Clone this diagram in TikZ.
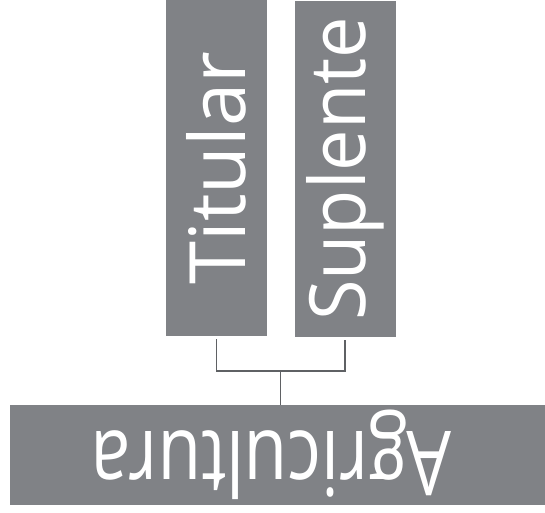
\documentclass[tikz,border=0pt]{standalone}
\usepackage{fontspec}
\setmainfont{Open Sans}
\usetikzlibrary{positioning, calc}
\definecolor{boxgray}{RGB}{128,130,134}
\definecolor{linegray}{RGB}{95,97,100}

\begin{document}
\begin{tikzpicture}[x=1bp, y=-1bp,
    box/.style={fill=boxgray, text=white, inner sep=0pt, font=\fontsize{78}{78}\selectfont},
    conn/.style={linegray, line width=1.3bp}]
  \useasboundingbox (0,0) rectangle (545,513);
  \node[box, rotate=90, minimum width=336bp, minimum height=101bp] (tit) at (216.5,168) {Titular};
  \node[box, rotate=90, minimum width=336bp, minimum height=101bp] (sup) at (345,169) {\scalebox{0.95}[1]{Suplente}};
  \node[box, rotate=180, minimum width=535bp, minimum height=100bp,
        font=\fontsize{90}{90}\selectfont] (agr) at (277.5,455) {\hspace{12bp}\scalebox{0.79}[1]{Agricultura}};
  \coordinate (join) at (280.75,371);
  \draw[conn] ([yshift=-3bp]tit.west) |- (join) -| ([yshift=-3bp]sup.west);
  \draw[conn] (join) -- (join |- agr.south);
\end{tikzpicture}
\end{document}
